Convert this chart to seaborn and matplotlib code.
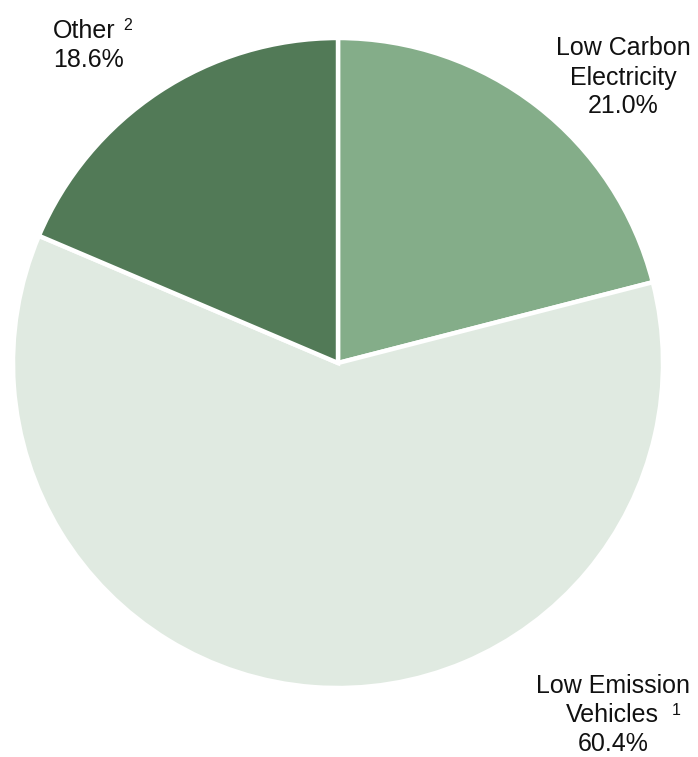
import matplotlib
matplotlib.use("Agg")
import matplotlib.pyplot as plt
import seaborn as sns

sns.set_theme(style="white")
plt.rcParams["font.family"] = ["Liberation Sans", "DejaVu Sans"]

# Share of spending by category (clockwise from 12 o'clock)
categories = ["Low Carbon Electricity", "Low Emission Vehicles", "Other"]
shares = [21.0, 60.4, 18.6]
colors = ["#84AD89", "#E0EAE1", "#527A57"]

W, H = 698, 757
fig = plt.figure(figsize=(W / 100, H / 100), dpi=100)

# Pie centred at (338, 363) px with a 325 px radius
cx, cy, r = 338, 363, 325
ax = fig.add_axes([(cx - r) / W, (H - cy - r) / H, 2 * r / W, 2 * r / H])
ax.pie(shares, colors=colors, startangle=90, counterclock=False, radius=1,
       wedgeprops=dict(edgecolor="white", linewidth=3.2))
ax.set_xlim(-1, 1)
ax.set_ylim(-1, 1)
ax.set_aspect("equal")
ax.axis("off")

fs = 18
tc = "#111111"

def pos(px, py):
    return (px - cx) / r, (cy - py) / r

def label(px, py, s, ha="center", size=fs):
    x, y = pos(px, py)
    ax.text(x, y, s, ha=ha, va="baseline", fontsize=size, color=tc, clip_on=False)

# Other
label(53, 38, "Other", ha="left")
label(123, 30, "2", ha="left", size=11.5)
label(53, 67, f"{shares[2]:.1f}%", ha="left")

# Low Carbon Electricity
label(623, 55, "Low Carbon")
label(623, 85, "Electricity")
label(623, 113, f"{shares[0]:.1f}%")

# Low Emission Vehicles
label(613, 693, "Low Emission")
label(612, 722, "Vehicles")
label(672, 715, "1", ha="left", size=11.5)
label(613, 751, f"{shares[1]:.1f}%")

fig.savefig("out.png", dpi=100)
